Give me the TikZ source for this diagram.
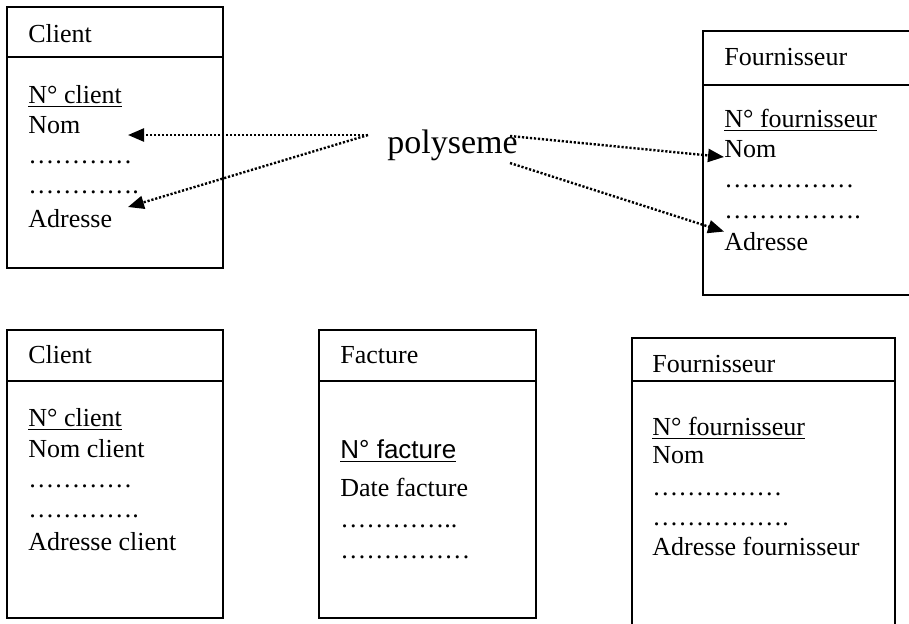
\documentclass[tikz,border=0pt]{standalone}
\usepackage{fontspec}
\setmainfont{Liberation Serif}
\newfontfamily\sansf{Liberation Sans}
\usetikzlibrary{arrows.meta,positioning}

\begin{document}
\begin{tikzpicture}[
  x=0.5pt, y=-0.5pt,
  entite/.style={draw, line width=1pt, inner sep=0pt, outer sep=0pt, anchor=north west},
  attr/.style={anchor=base west, inner sep=0pt, font=\fontsize{13}{15}\selectfont},
  sous/.style={anchor=base west},
  fleche/.style={-{Triangle[length=8pt,width=6.5pt]}, line width=1.2pt, dash pattern=on 1.1pt off 0.9pt}
]
\useasboundingbox (0,0) rectangle (909,623);
\clip (0,0) rectangle (909,623);

% entites du haut
\node[entite, minimum width=108pt, minimum height=130.5pt] (cliA) at (7,7) {};
\draw[line width=1pt] ([yshift=-25pt]cliA.north west) -- ([yshift=-25pt]cliA.north east);
\node[attr] (cA0) at (28,42) {Client};
\node[attr] (cA1) at (28,103) {\underline{N° client}};
\node[attr, below=15pt of cA1.base west, sous] (cA2) {Nom};
\node[attr, below=15pt of cA2.base west, sous] (cA3) {…………};
\node[attr, below=15pt of cA3.base west, sous] (cA4) {………….};
\node[attr, below=17pt of cA4.base west, sous] (cA5) {Adresse};

\node[entite, minimum width=111pt, minimum height=132pt] (fouA) at (703,31) {};
\draw[line width=1pt] ([yshift=-27pt]fouA.north west) -- ([yshift=-27pt]fouA.north east);
\node[attr] (fA0) at (724,65) {Fournisseur};
\node[attr] (fA1) at (724,127) {\underline{N° fournisseur}};
\node[attr, below=15pt of fA1.base west, sous] (fA2) {Nom};
\node[attr, below=15pt of fA2.base west, sous] (fA3) {……………};
\node[attr, below=15.5pt of fA3.base west, sous] (fA4) {…………….};
\node[attr, below=16pt of fA4.base west, sous] (fA5) {Adresse};

\node[anchor=base west, inner sep=0pt, font=\fontsize{17}{20}\selectfont] (poly) at (387,153) {polyseme};

% liens du polyseme
\coordinate (pg) at (368,135);
\coordinate (pdh) at (510,136);
\coordinate (pdb) at (510,163);
\coordinate (cNom) at (128,135);
\coordinate (cAdr) at (128,207);
\draw[fleche] (pg) -- (cNom);
\draw[fleche] (pg) -- (cAdr);
\draw[fleche] (pdh) -- (fA2.base west);
\draw[fleche] (pdb) -- (fA5.north west);

% entites du bas
\node[entite, minimum width=108pt, minimum height=144pt] (cliB) at (7,330) {};
\draw[line width=1pt] ([yshift=-25.5pt]cliB.north west) -- ([yshift=-25.5pt]cliB.north east);
\node[attr] (cB0) at (28,363) {Client};
\node[attr] (cB1) at (28,426) {\underline{N° client}};
\node[attr, below=15.5pt of cB1.base west, sous] (cB2) {Nom client};
\node[attr, below=15pt of cB2.base west, sous] (cB3) {…………};
\node[attr, below=15pt of cB3.base west, sous] (cB4) {………….};
\node[attr, below=16.5pt of cB4.base west, sous] (cB5) {Adresse client};

\node[entite, minimum width=108.5pt, minimum height=144pt] (fac) at (319,330) {};
\draw[line width=1pt] ([yshift=-25.5pt]fac.north west) -- ([yshift=-25.5pt]fac.north east);
\node[attr] (fc0) at (340,363) {Facture};
\node[attr] (fc1) at (340,458) {\sansf\underline{N° facture}};
\node[attr, below=19pt of fc1.base west, sous] (fc2) {Date facture};
\node[attr, below=15.5pt of fc2.base west, sous] (fc3) {…………..};
\node[attr, below=15.5pt of fc3.base west, sous] (fc4) {……………};

\node[entite, minimum width=131.5pt, minimum height=151pt] (fouB) at (632,338) {};
\draw[line width=1pt] ([yshift=-21.5pt]fouB.north west) -- ([yshift=-21.5pt]fouB.north east);
\node[attr] (fB0) at (652,372) {Fournisseur};
\node[attr] (fB1) at (652,435) {\underline{N° fournisseur}};
\node[attr, below=14pt of fB1.base west, sous] (fB2) {Nom};
\node[attr, below=16pt of fB2.base west, sous] (fB3) {……………};
\node[attr, below=15pt of fB3.base west, sous] (fB4) {…………….};
\node[attr, below=15pt of fB4.base west, sous] (fB5) {Adresse fournisseur};
\end{tikzpicture}
\end{document}
